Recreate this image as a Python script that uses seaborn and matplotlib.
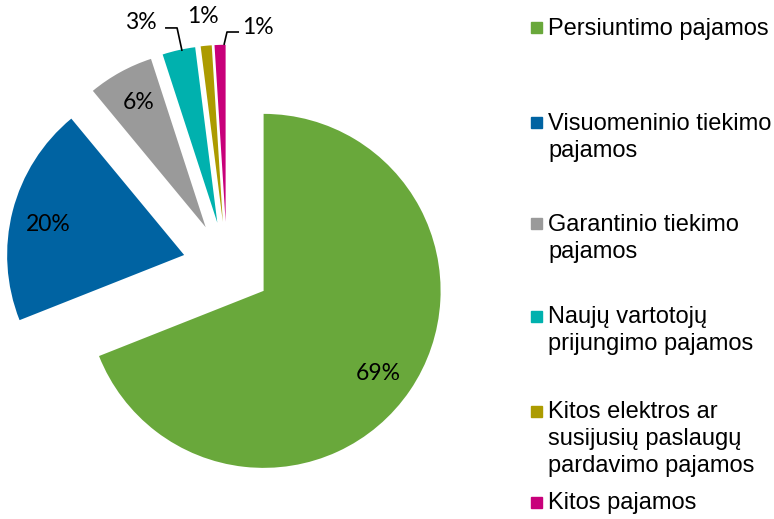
import matplotlib
matplotlib.use("Agg")
import matplotlib.pyplot as plt
import seaborn as sns
from matplotlib.patches import Rectangle

# revenue structure
categories = [
    "Persiuntimo pajamos",
    "Visuomeninio tiekimo\npajamos",
    "Garantinio tiekimo\npajamos",
    "Naujų vartotojų\nprijungimo pajamos",
    "Kitos elektros ar\nsusijusių paslaugų\npardavimo pajamos",
    "Kitos pajamos",
]
shares = [69, 20, 6, 3, 1, 1]
pct_labels = ["69%", "20%", "6%", "3%", "1%", "1%"]
colors = ["#69A83B", "#0063A2", "#9A9A9A", "#00B1AE", "#AC9B00", "#C8007A"]

# label placement (data coords, pie radius = 1)
label_pos = [(0.853, -0.605), (-1.011, 0.232), (-0.497, 0.921),
             (-0.486, 1.373), (-0.136, 1.407), (0.175, 1.350)]
leaders = {3: [(-0.254, 1.215), (-0.282, 1.345), (-0.350, 1.345)],
           5: [(-0.017, 1.249), (0.0, 1.322), (0.068, 1.322)]}
legend_y = [27.5, 122.5, 224, 316, 411, 502.5]  # pixel rows of legend squares

sns.set_theme(style="white")

W, H = 774, 519
fig = plt.figure(figsize=(W / 100, H / 100), dpi=100)
ax = fig.add_axes([0, 0, 530 / W, 1])

wedges, _ = ax.pie(shares, colors=colors, startangle=90, counterclock=False,
                   explode=[0.25] * len(shares), radius=1,
                   wedgeprops=dict(linewidth=0))
ax.set_xlim(-227 / 177, 303 / 177)
ax.set_ylim(-253 / 177, 266 / 177)
ax.set_aspect("auto")
ax.axis("off")

for lab, (x, y) in zip(pct_labels, label_pos):
    ax.text(x, y, lab, ha="center", va="center", fontsize=16.5,
            family=["Lato", "DejaVu Sans"], color="black")

for pts in leaders.values():
    xs, ys = zip(*pts)
    ax.plot(xs, ys, color="black", lw=1.2, solid_capstyle="butt")

# legend, spaced like the original
for cat, col, py in zip(categories, colors, legend_y):
    fig.patches.append(Rectangle((531 / W, 1 - (py + 5.5) / H), 11 / W, 11 / H,
                                 transform=fig.transFigure, color=col))
    fig.text(548 / W, 1 - (py - 10) / H, cat, ha="left", va="top",
             fontsize=17, family=["Liberation Sans", "DejaVu Sans"],
             color="black", linespacing=1.3)

fig.savefig("out.png", dpi=100)
